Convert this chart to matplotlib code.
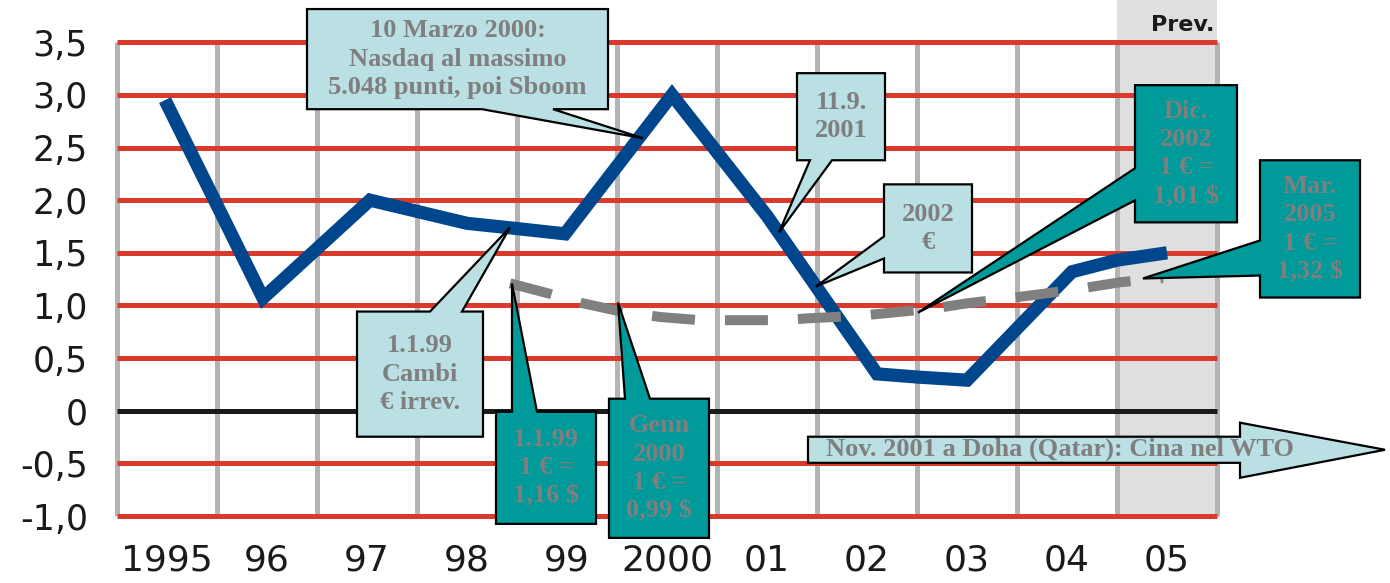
import matplotlib
matplotlib.use("Agg")
import matplotlib.pyplot as plt
from matplotlib.patches import Polygon

# ---------------- data ----------------
year_labels = ["1995", "96", "97", "98", "99", "2000", "01", "02", "03", "04", "05"]
y_ticks = [-1.0, -0.5, 0.0, 0.5, 1.0, 1.5, 2.0, 2.5, 3.0, 3.5]
y_tick_labels = ["-1,0", "-0,5", "0", "0,5", "1,0", "1,5", "2,0", "2,5", "3,0", "3,5"]

# blue series (positions in years, value)
blue_x = [1995.48, 1996.46, 1997.53, 1998.50, 1999.00, 1999.48, 2000.55,
          2001.50, 2002.60, 2003.00, 2003.50, 2004.55, 2005.00, 2005.50]
blue_y = [2.95, 1.07, 2.00, 1.78, 1.73, 1.68, 3.00,
          1.85, 0.35, 0.32, 0.29, 1.32, 1.43, 1.50]

# grey dashed series (euro / dollar)
dash_x = [1998.93, 1999.33, 1999.66, 2000.00, 2000.43, 2000.83, 2001.20, 2001.63,
          2001.96, 2002.40, 2002.73, 2003.16, 2003.50, 2003.93, 2004.26, 2004.70,
          2005.03, 2005.46]
dash_y = [1.21, 1.11, 1.02, 0.95, 0.89, 0.86, 0.86, 0.86,
          0.88, 0.90, 0.93, 0.97, 1.02, 1.07, 1.11, 1.17,
          1.22, 1.26]

forecast_label = "Prev."

# ---------------- style ----------------
RED = "#d93a2b"
GRID_GREY = "#b4b4b4"
SHADE = "#dfdfdf"
BLUE = "#00468c"
DASH_GREY = "#808080"
LIGHT = "#bae0e3"
TEAL = "#009a9a"
TXT = "#7f7f7f"

plt.rcParams["font.family"] = ["DejaVu Sans"]

fig = plt.figure(figsize=(13.9, 5.83), dpi=100)
ax = fig.add_axes([117 / 1390, 67 / 583, 1100 / 1390, 516 / 583])
x0, x1 = 1995, 2006
ax.set_xlim(x0, x1)
ax.set_ylim(-1.0, 3.901)
for s in ax.spines.values():
    s.set_visible(False)

# forecast shading
ax.axvspan(2005, 2006, color=SHADE, zorder=0, lw=0)
ax.text(2005.97, 3.66, forecast_label, ha="right", va="center",
        fontsize=16, fontweight="bold", color="#1a1a1a", zorder=1)

# vertical grid
ax.vlines(range(x0, x1 + 1), -1.0, 3.5, colors=GRID_GREY, lw=3.6, zorder=1,
          clip_on=False)
# horizontal grid
for yv in y_ticks:
    ax.hlines(yv, x0, x1, colors=("#1a1a1a" if yv == 0 else RED), lw=3.6, zorder=2,
              clip_on=False)

# series
ax.plot(blue_x, blue_y, color=BLUE, lw=9.5, solid_capstyle="butt",
        solid_joinstyle="miter", zorder=3)
ax.plot(dash_x, dash_y, color=DASH_GREY, lw=7.2, dashes=(4.3, 3.0),
        dash_capstyle="butt", zorder=4)

# ticks
ax.set_xticks([x0 + i + 0.5 for i in range(len(year_labels))])
ax.set_xticklabels(year_labels, fontsize=26)
ax.set_yticks(y_ticks)
ax.set_yticklabels(y_tick_labels, fontsize=25)
ax.tick_params(axis="both", length=0, colors="#1a1a1a")
ax.tick_params(axis="y", pad=21)
ax.tick_params(axis="x", pad=20)


def callout(bx0, by0, bx1, by1, edge, base, tip, text, fc, fs=19):
    b1, b2 = sorted(base)
    pts = [(bx0, by0)]
    if edge == "bottom":
        pts += [(b1, by0), tip, (b2, by0)]
    pts.append((bx1, by0))
    pts.append((bx1, by1))
    if edge == "top":
        pts += [(b2, by1), tip, (b1, by1)]
    pts.append((bx0, by1))
    if edge == "left":
        pts += [(bx0, b2), tip, (bx0, b1)]
    poly = Polygon(pts, closed=True, fc=fc, ec="black", lw=1.6,
                   clip_on=False, zorder=6, joinstyle="miter")
    ax.add_patch(poly)
    ax.text((bx0 + bx1) / 2, (by0 + by1) / 2, text, ha="center", va="center",
            family="Liberation Serif", fontweight="bold", color=TXT,
            fontsize=fs, linespacing=1.3, zorder=7, clip_on=False)


callout(1996.90, 2.864, 1999.91, 3.815, "bottom", (1998.65, 1999.36), (2000.26, 2.588),
        "10 Marzo 2000:\nNasdaq al massimo\n5.048 punti, poi Sboom", LIGHT)
callout(2001.80, 2.379, 2002.68, 3.206, "bottom", (2001.93, 2002.15), (2001.62, 1.694),
        "11.9.\n2001", LIGHT)
callout(2002.67, 1.313, 2003.55, 2.150, "left", (1.446, 1.656), (2001.99, 1.180),
        "2002\n€", LIGHT)
callout(1997.40, -0.247, 1998.66, 0.942, "top", (1998.13, 1998.45), (1998.93, 1.741),
        "1.1.99\nCambi\n€ irrev.", LIGHT)
callout(1998.79, -1.075, 1999.79, -0.010, "top", (1998.95, 1999.20), (1998.95, 1.208),
        "1.1.99\n1 € =\n1,16 $", TEAL)
callout(1999.92, -1.208, 2000.92, 0.114, "top", (2000.08, 2000.33), (2000.01, 1.028),
        "Genn\n2000\n1 € =\n0,99 $", TEAL)
callout(2005.18, 1.789, 2006.20, 3.092, "left", (1.998, 2.303), (2003.01, 0.932),
        "Dic.\n2002\n1 € =\n1,01 $", TEAL)
callout(2006.43, 1.075, 2007.43, 2.379, "left", (1.284, 1.617), (2005.26, 1.256),
        "Mar.\n2005\n1 € =\n1,32 $", TEAL)

# WTO arrow
arrow_pts = [(2001.91, -0.247), (2006.23, -0.247), (2006.23, -0.114), (2007.68, -0.371),
             (2006.23, -0.637), (2006.23, -0.495), (2001.91, -0.495)]
ax.add_patch(Polygon(arrow_pts, closed=True, fc=LIGHT, ec="black", lw=1.6,
                     clip_on=False, zorder=6, joinstyle="miter"))
ax.text(2004.43, -0.371, "Nov. 2001 a Doha (Qatar): Cina nel WTO", ha="center",
        va="center", family="Liberation Serif", fontweight="bold", color=TXT,
        fontsize=19, zorder=7, clip_on=False)

fig.savefig("out.png", dpi=100)
